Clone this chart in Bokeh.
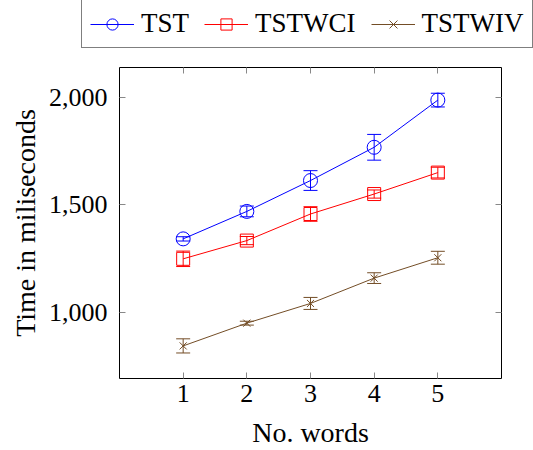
from bokeh.plotting import figure
from bokeh.layouts import column
from bokeh.models import (ColumnDataSource, Range1d, LinearAxis, Legend, LegendItem,
                          Whisker, TeeHead, NumeralTickFormatter, FixedTicker,
                          CustomJSTickFormatter)
from bokeh.embed import file_html
from bokeh.resources import INLINE

words = [1, 2, 3, 4, 5]
tst = [1341, 1469, 1613, 1768, 1988]
tst_err = [10, 25, 46, 60, 32]
tstwci = [1248, 1333, 1457, 1550, 1650]
tstwci_err = [36, 19, 34, 19, 25]
tstwiv = [842, 948, 1040, 1158, 1253]
tstwiv_err = [33, 9, 28, 25, 30]
y_ticks = [1000, 1500, 2000]
x_ticks = [1, 2, 3, 4, 5]
names = ["TST", "TSTWCI", "TSTWIV"]

FONT = "Liberation Serif"
FS = "26px"
FS_LABEL = "28px"

p = figure(width=533, height=398, output_backend="svg", toolbar_location=None,
           x_range=Range1d(0, 6), y_range=Range1d(690, 2140),
           min_border_left=119, min_border_right=32, min_border_top=15, min_border_bottom=70)
p.frame_align = False
p.xgrid.visible = False
p.ygrid.visible = False
p.outline_line_color = "black"
p.outline_line_width = 1
p.background_fill_color = "white"
p.border_fill_color = "white"

def style_axis(ax):
    ax.axis_line_color = None
    ax.major_tick_in = 6
    ax.major_tick_out = 0
    ax.minor_tick_line_color = None
    ax.major_tick_line_color = "#888888"
    ax.major_label_text_font = FONT
    ax.major_label_text_font_size = FS
    ax.major_label_text_color = "black"
    ax.axis_label_text_font = FONT
    ax.axis_label_text_font_size = FS_LABEL
    ax.axis_label_text_font_style = "normal"
    ax.axis_label_text_color = "black"

p.xaxis.ticker = FixedTicker(ticks=x_ticks)
p.yaxis.ticker = FixedTicker(ticks=y_ticks)
p.yaxis.formatter = NumeralTickFormatter(format="0,0")
style_axis(p.xaxis[0])
style_axis(p.yaxis[0])
p.xaxis.axis_label = "No. words"
p.yaxis.axis_label = "Time in miliseconds"
p.xaxis.major_label_standoff = 6
p.xaxis.axis_label_standoff = 12
p.yaxis.major_label_standoff = 12
p.yaxis.axis_label_standoff = 5

blank = CustomJSTickFormatter(code="return '';")
top = LinearAxis(ticker=FixedTicker(ticks=x_ticks), formatter=blank)
style_axis(top)
top.major_label_standoff = 0
p.add_layout(top, "above")
right = LinearAxis(ticker=FixedTicker(ticks=y_ticks), formatter=blank)
style_axis(right)
right.major_label_standoff = 0
p.add_layout(right, "right")

# legend lives in a small strip figure on top (its glyphs fall outside its view)
lg = figure(width=533, height=52, output_backend="svg", toolbar_location=None,
            x_range=Range1d(-10, -9), y_range=Range1d(-10, -9),
            x_axis_type=None, y_axis_type=None,
            min_border_left=0, min_border_right=0, min_border_top=0, min_border_bottom=0)
lg.frame_align = False
lg.xgrid.visible = False
lg.ygrid.visible = False
lg.outline_line_color = None

series = [
    (tst, tst_err, "#0000ff", "circle", 14, 10),
    (tstwci, tstwci_err, "#ff0000", "square", 13, 10),
    (tstwiv, tstwiv_err, "#734d26", "x", 10, 8),
]
items = []
for name, (ys, errs, color, marker, size, lsize) in zip(names, series):
    src = ColumnDataSource(dict(x=words, y=ys,
                                lo=[v - e for v, e in zip(ys, errs)],
                                hi=[v + e for v, e in zip(ys, errs)]))
    w = Whisker(source=src, base="x", upper="hi", lower="lo", line_color=color, line_width=1,
                upper_head=TeeHead(size=14, line_color=color, line_width=1),
                lower_head=TeeHead(size=14, line_color=color, line_width=1))
    p.add_layout(w)
    p.line("x", "y", source=src, line_color=color, line_width=1)
    p.scatter("x", "y", source=src, marker=marker, size=size, line_color=color,
              fill_color=None, line_width=1)
    l1 = lg.line("x", "y", source=src, line_color=color, line_width=1)
    l2 = lg.scatter("x", "y", source=src, marker=marker, size=lsize, line_color=color,
                    fill_color=None, line_width=1)
    items.append(LegendItem(label=name, renderers=[l1, l2]))

legend = Legend(items=items, orientation="horizontal", location=(81, 4),
                label_text_font=FONT, label_text_font_size="27px", label_text_color="black",
                label_text_line_height=1.0,
                border_line_color="black", border_line_width=1, background_fill_alpha=1,
                glyph_width=44, glyph_height=28, label_standoff=7, spacing=15,
                padding=8, margin=0, label_height=28)
lg.add_layout(legend, "center")

layout = column(lg, p, spacing=0)
open("out.html", "w").write(file_html(layout, INLINE))
